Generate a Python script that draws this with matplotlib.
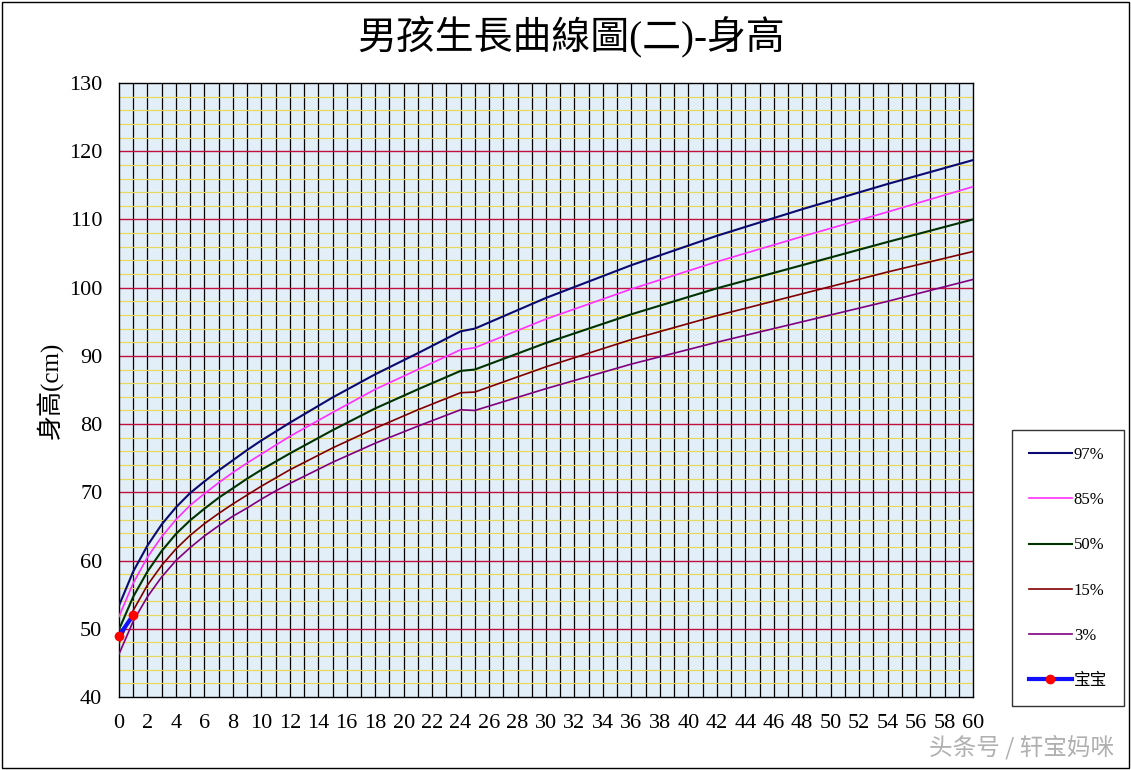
import matplotlib
matplotlib.use("Agg")
import matplotlib.pyplot as plt

months = [0,1,2,3,4,5,6,7,8,9,10,11,12,15,18,21,24,25,30,36,42,48,54,60]
p3  = [46.3,51.1,54.7,57.6,60.0,61.9,63.6,65.1,66.5,67.7,69.0,70.2,71.3,74.4,77.2,79.7,82.1,82.0,85.2,88.8,92.0,95.0,98.0,101.2]
p15 = [47.9,52.7,56.4,59.3,61.7,63.7,65.4,66.9,68.3,69.6,70.9,72.1,73.3,76.5,79.4,82.1,84.6,84.7,88.4,92.4,95.9,99.1,102.3,105.3]
p50 = [49.9,54.7,58.4,61.4,63.9,65.9,67.6,69.2,70.6,72.0,73.3,74.5,75.7,79.1,82.3,85.1,87.8,88.0,91.9,96.1,99.9,103.3,106.7,110.0]
p85 = [51.8,56.7,60.5,63.5,66.0,68.1,69.8,71.4,72.9,74.3,75.6,76.9,78.2,81.7,85.1,88.0,90.9,91.2,95.4,99.8,103.8,107.5,111.1,114.8]
p97 = [53.4,58.4,62.2,65.3,67.8,69.9,71.6,73.2,74.7,76.2,77.6,78.9,80.2,83.9,87.3,90.4,93.6,94.0,98.5,103.3,107.6,111.5,115.2,118.7]
baby_m = [0,1]
baby_h = [49,52]
xticks = list(range(0,61,2))
yticks = list(range(40,131,10))

serif = ['Liberation Serif','DejaVu Serif']
cjk = ['Liberation Serif','Noto Sans CJK TC']

fig = plt.figure(figsize=(11.31,7.7), dpi=100)
ax = fig.add_axes([119/1131, 1-697/770, (973-119)/1131, (697-83)/770])
ax.set_facecolor('#e2eef8')
ax.set_xlim(0,60); ax.set_ylim(40,130)
for m in range(1,60):
    ax.axvline(m, color='black', lw=0.9, zorder=1)
for h in range(42,130,2):
    if h % 10:
        ax.axhline(h, color='#e8d860', lw=0.9, zorder=1)
for h in range(50,130,10):
    ax.axhline(h, color='#c01040', lw=1.0, zorder=1.5)

ax.plot(months,p97,color='#0a0a70',lw=1.5,label='97%',zorder=3)
ax.plot(months,p85,color='#ff30ff',lw=1.2,label='85%',zorder=3)
ax.plot(months,p50,color='#003300',lw=1.5,label='50%',zorder=3)
ax.plot(months,p15,color='#800000',lw=1.2,label='15%',zorder=3)
ax.plot(months,p3,color='#800080',lw=1.2,label='3%',zorder=3)
ax.plot(baby_m,baby_h,color='#1010ff',lw=3,marker='o',mfc='red',mec='red',ms=6,label='宝宝',zorder=4,clip_on=False)

ax.set_xticks(xticks); ax.set_yticks(yticks)
ax.tick_params(length=0, labelsize=16, pad=12)
for t in ax.get_xticklabels()+ax.get_yticklabels():
    t.set_fontfamily(serif)
for s in ax.spines.values():
    s.set_color('black'); s.set_linewidth(1)
ax.set_ylabel('身高(cm)', fontsize=18, family=cjk, labelpad=4)
fig.text(0.505, 0.953, '男孩生長曲線圖(二)-身高', ha='center', va='center', fontsize=28, family=cjk)

leg = ax.legend(loc='center left', bbox_to_anchor=(1.036, 0.21), frameon=True, fancybox=False,
                edgecolor='black', labelspacing=1.75, handlelength=2.6, handletextpad=0.1,
                borderpad=1.0, prop={'family':cjk,'size':12})
leg.get_frame().set_linewidth(1)
fig.text(0.985, 0.03, '头条号 / 轩宝妈咪', ha='right', va='center', fontsize=17, family=['Noto Sans CJK SC'], color='#b0b0b0')
fig.patches.append(plt.Rectangle((0.002,0.002),0.996,0.996,transform=fig.transFigure,fill=False,ec='black',lw=1))
fig.savefig('out.png', dpi=100, facecolor='white')
